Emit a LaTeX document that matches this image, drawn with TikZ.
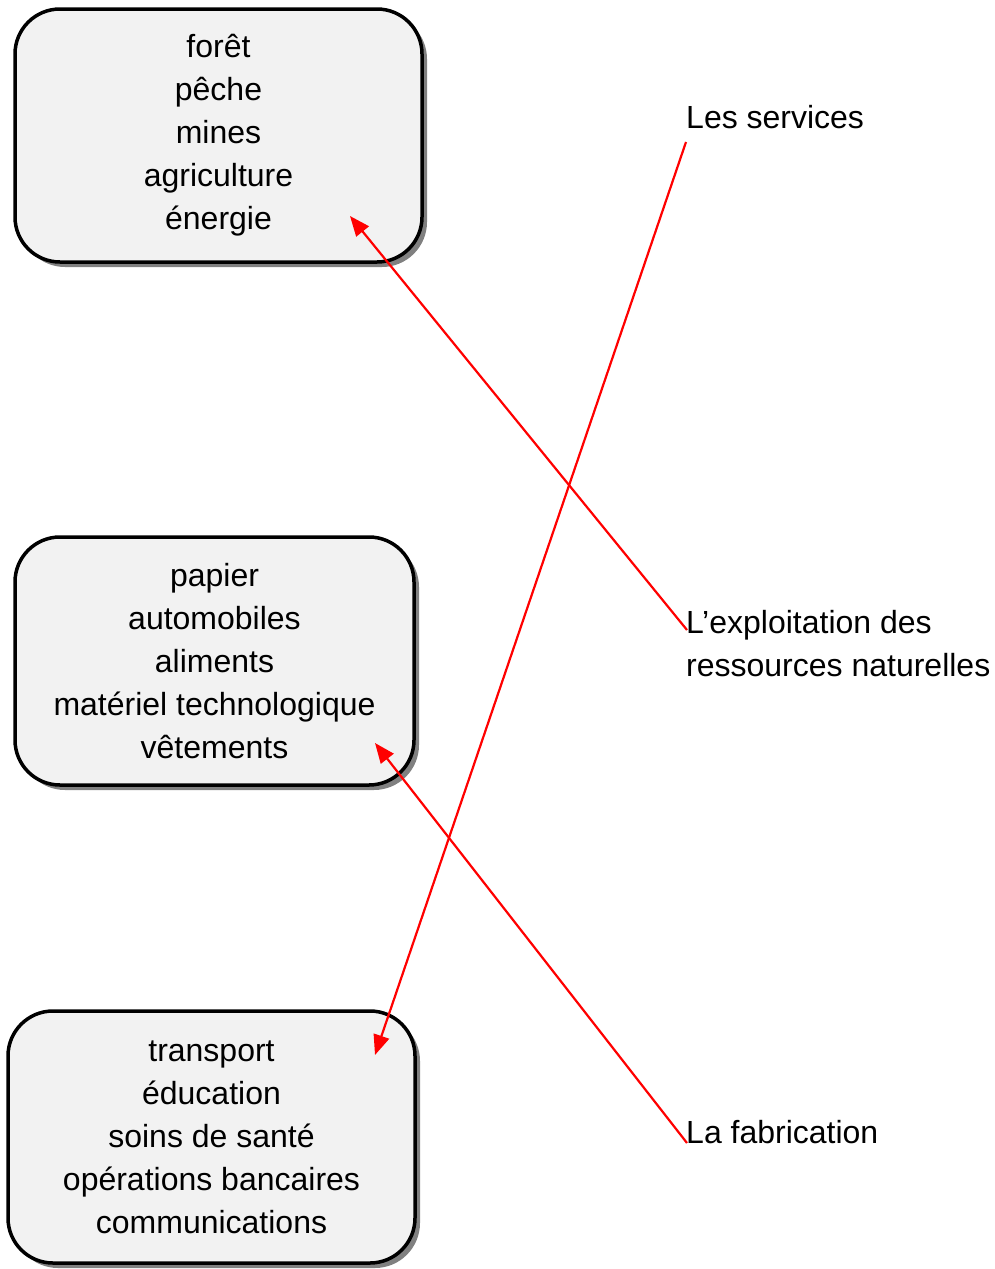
\documentclass[tikz,border=0pt]{standalone}
\usepackage{fontspec}
\setmainfont{Liberation Sans}
\usetikzlibrary{arrows.meta,shadows}
\definecolor{boxfill}{HTML}{F2F2F2}
\definecolor{shadowgray}{HTML}{808080}
\tikzset{
  catbox/.style={draw=black, line width=3.5pt, fill=boxfill, rounded corners=45pt,
    align=center, inner sep=0pt, font=\fontsize{32pt}{43pt}\selectfont,
    drop shadow={shadow xshift=5pt, shadow yshift=-5pt, fill=shadowgray, opacity=1}},
  sector/.style={inner sep=0pt, anchor=base west, align=left,
    font=\fontsize{32pt}{43pt}\selectfont},
  link/.style={draw=red, line width=2.2pt, -{Triangle[length=20pt,width=16pt]}}
}
\begin{document}
\begin{tikzpicture}[x=1pt,y=-1pt]
\useasboundingbox (0,0) rectangle (995,1269);
\node[catbox, minimum width=407pt, minimum height=253pt] (b1) at (218.5,135.5)
  {forêt\\pêche\\mines\\agriculture\\énergie};
\node[catbox, minimum width=399pt, minimum height=248pt] (b2) at (214.5,661)
  {papier\\automobiles\\aliments\\matériel technologique\\vêtements};
\node[catbox, minimum width=407pt, minimum height=252pt] (b3) at (211.5,1137)
  {transport\\éducation\\soins de santé\\opérations bancaires\\communications};
\node[sector] (serv) at (686,128) {Les services};
\node[sector] (expl) at (686,676) {L’exploitation des\\ressources naturelles};
\node[sector] (fab) at (686,1143) {La fabrication};
\coordinate (s1) at (687,630);
\coordinate (s2) at (687,1143);
\coordinate (s3) at (686,142);
\coordinate (t1) at (350,216);
\coordinate (t2) at (375,743);
\coordinate (t3) at (375,1055);
\draw[link] (s1) -- (t1);
\draw[link] (s2) -- (t2);
\draw[link] (s3) -- (t3);
\end{tikzpicture}
\end{document}
